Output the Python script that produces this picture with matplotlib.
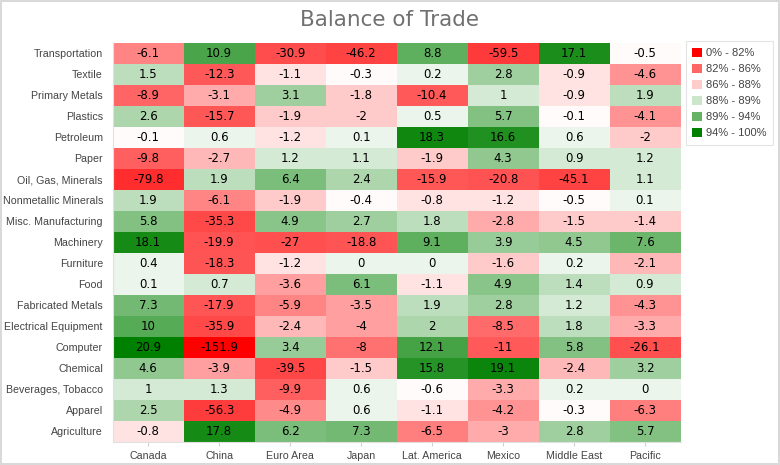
import numpy as np
import matplotlib
matplotlib.use("Agg")
import matplotlib.pyplot as plt
from matplotlib.colors import LinearSegmentedColormap, Normalize
from matplotlib.patches import Patch

regions = ["Canada", "China", "Euro Area", "Japan", "Lat. America",
           "Mexico", "Middle East", "Pacific"]
sectors = ["Transportation", "Textile", "Primary Metals", "Plastics",
           "Petroleum", "Paper", "Oil, Gas, Minerals", "Nonmetallic Minerals",
           "Misc. Manufacturing", "Machinery", "Furniture", "Food",
           "Fabricated Metals", "Electrical Equipment", "Computer",
           "Chemical", "Beverages, Tobacco", "Apparel", "Agriculture"]

transportation = [-6.1, 10.9, -30.9, -46.2, 8.8, -59.5, 17.1, -0.5]
textile = [1.5, -12.3, -1.1, -0.3, 0.2, 2.8, -0.9, -4.6]
primary_metals = [-8.9, -3.1, 3.1, -1.8, -10.4, 1, -0.9, 1.9]
plastics = [2.6, -15.7, -1.9, -2, 0.5, 5.7, -0.1, -4.1]
petroleum = [-0.1, 0.6, -1.2, 0.1, 18.3, 16.6, 0.6, -2]
paper = [-9.8, -2.7, 1.2, 1.1, -1.9, 4.3, 0.9, 1.2]
oil_gas = [-79.8, 1.9, 6.4, 2.4, -15.9, -20.8, -45.1, 1.1]
nonmetallic = [1.9, -6.1, -1.9, -0.4, -0.8, -1.2, -0.5, 0.1]
misc_manuf = [5.8, -35.3, 4.9, 2.7, 1.8, -2.8, -1.5, -1.4]
machinery = [18.1, -19.9, -27, -18.8, 9.1, 3.9, 4.5, 7.6]
furniture = [0.4, -18.3, -1.2, 0, 0, -1.6, 0.2, -2.1]
food = [0.1, 0.7, -3.6, 6.1, -1.1, 4.9, 1.4, 0.9]
fabricated = [7.3, -17.9, -5.9, -3.5, 1.9, 2.8, 1.2, -4.3]
electrical = [10, -35.9, -2.4, -4, 2, -8.5, 1.8, -3.3]
computer = [20.9, -151.9, 3.4, -8, 12.1, -11, 5.8, -26.1]
chemical = [4.6, -3.9, -39.5, -1.5, 15.8, 19.1, -2.4, 3.2]
beverages = [1, 1.3, -9.9, 0.6, -0.6, -3.3, 0.2, 0]
apparel = [2.5, -56.3, -4.9, 0.6, -1.1, -4.2, -0.3, -6.3]
agriculture = [-0.8, 17.8, 6.2, 7.3, -6.5, -3, 2.8, 5.7]

ranges = ["0% - 82%", "82% - 86%", "86% - 88%", "88% - 89%", "89% - 94%", "94% - 100%"]

data = np.array([transportation, textile, primary_metals, plastics, petroleum,
                 paper, oil_gas, nonmetallic, misc_manuf, machinery, furniture,
                 food, fabricated, electrical, computer, chemical, beverages,
                 apparel, agriculture])

vmin, vmax = data.min(), data.max()

legend_colors = ["#ff0000", "#ff6666", "#ffcccc", "#cce6cc", "#66b366", "#008000"]

# gradient: (value, strength of red / green blended over white)
red_steps = [(vmin, 1.0), (-10.2, 0.65), (-4.6, 0.45), (-3.3, 0.365), (-1.8, 0.255), (0, 0.0)]
green_steps = [(1.9, 0.255), (3.1, 0.37), (10.5, 0.68), (vmax, 1.0)]

nodes = []
for v, t in red_steps:
    nodes.append(((v - vmin) / (vmax - vmin), (1.0, 1 - t, 1 - t)))
for v, t in green_steps:
    nodes.append(((v - vmin) / (vmax - vmin), (1 - t, 1 - t * 127 / 255, 1 - t)))
cmap = LinearSegmentedColormap.from_list("trade", nodes)

plt.rcParams["font.family"] = ["Liberation Sans", "DejaVu Sans"]

fig = plt.figure(figsize=(7.8, 4.65), dpi=100)
fig.patch.set_edgecolor("#d9d9d9")
fig.patch.set_linewidth(1.5)
ax = fig.add_axes([0.1445, 0.05, 0.728, 0.858])

ax.pcolormesh(data, cmap=cmap, norm=Normalize(vmin, vmax))
ax.set_xlim(0, len(regions))
ax.set_ylim(len(sectors), 0)

for i in range(len(sectors)):
    for j in range(len(regions)):
        ax.text(j + 0.5, i + 0.5, f"{data[i, j]:g}", ha="center", va="center",
                fontsize=8.5, color="black", family="DejaVu Sans")

ax.set_xticks(np.arange(len(regions)) + 0.5)
ax.set_xticklabels(regions, fontsize=7.7, color="#444444")
ax.set_yticks(np.arange(len(sectors)) + 0.5)
ax.set_yticklabels(sectors, fontsize=7.7, color="#444444")
ax.tick_params(axis="x", length=3, color="#d0d0d0", pad=4)
ax.tick_params(axis="y", length=0, pad=7)
for s in ["top", "right"]:
    ax.spines[s].set_visible(False)
for s in ["left", "bottom"]:
    ax.spines[s].set_color("#e0e0e0")

fig.text(0.5, 0.958, "Balance of Trade", ha="center", va="center",
         fontsize=15.5, color="#707070", family="DejaVu Sans")

handles = [Patch(facecolor=c, edgecolor="none") for c in legend_colors]
leg = fig.legend(handles, ranges, loc="upper left", bbox_to_anchor=(0.879, 0.912),
                 fontsize=8, frameon=True, fancybox=False, handlelength=0.9,
                 handleheight=0.9, handletextpad=0.35, borderpad=0.6,
                 borderaxespad=0, labelspacing=0.5, labelcolor="#444444")
leg.get_frame().set_edgecolor("#dddddd")
leg.get_frame().set_linewidth(0.8)

fig.savefig("out.png", dpi=100, edgecolor=fig.get_edgecolor())
